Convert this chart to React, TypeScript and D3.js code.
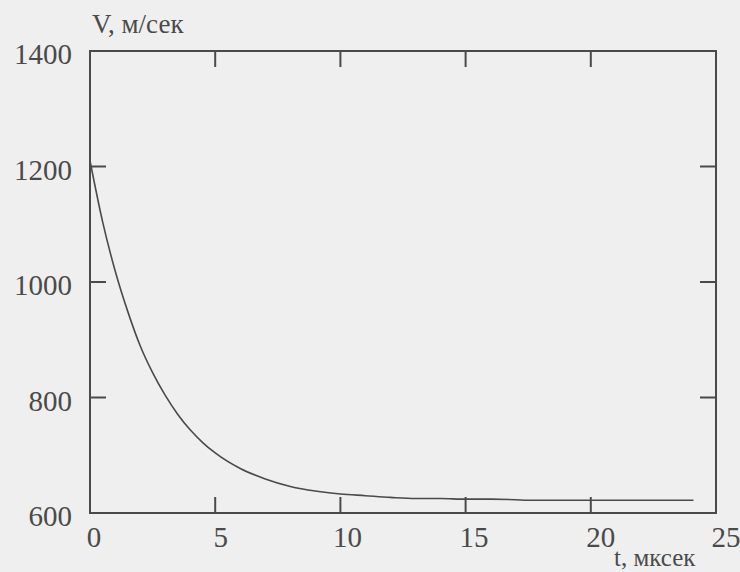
import React, { useRef, useEffect } from "react";
import * as d3 from "d3";

const width = 740;
const height = 572;

// time, mks
const times = [0, 0.5, 1, 1.5, 2, 2.5, 3, 3.5, 4, 4.5, 5, 6, 7, 8, 9, 10, 11, 12, 13, 14, 15, 16, 17, 17.5, 18, 20, 22, 24.1];
// velocity, m/s
const speeds = [1210, 1105, 1020, 950, 890, 843, 804, 771, 744, 722, 704, 677, 659, 646, 638, 633, 630, 627, 625, 625, 624, 624, 623, 622, 622, 622, 622, 622];

const xTicks = [0, 5, 10, 15, 20, 25];
const yTicks = [600, 800, 1000, 1200, 1400];

const ink = "#4a4a4a";
const serif = "'Liberation Serif', 'DejaVu Serif', serif";

const App = () => {
  const ref = useRef<SVGSVGElement>(null);

  useEffect(() => {
    const svg = d3.select(ref.current);
    svg.selectAll("*").remove();

    const x = d3.scaleLinear().domain([0, 25]).range([90, 716]);
    const y = d3.scaleLinear().domain([600, 1400]).range([513, 51]);

    svg.append("rect").attr("width", width).attr("height", height).attr("fill", "#efefef");

    const g = svg.append("g");

    // frame
    g.append("rect")
      .attr("x", x(0))
      .attr("y", y(1400))
      .attr("width", x(25) - x(0))
      .attr("height", y(600) - y(1400))
      .attr("fill", "none")
      .attr("stroke", ink)
      .attr("stroke-width", 2);

    const tl = 16;
    // inward ticks on all four sides
    xTicks.slice(1, -1).forEach(t => {
      g.append("line").attr("x1", x(t)).attr("x2", x(t)).attr("y1", y(600)).attr("y2", y(600) - tl).attr("stroke", ink).attr("stroke-width", 2);
      g.append("line").attr("x1", x(t)).attr("x2", x(t)).attr("y1", y(1400)).attr("y2", y(1400) + tl).attr("stroke", ink).attr("stroke-width", 2);
    });
    yTicks.slice(1, -1).forEach(v => {
      g.append("line").attr("x1", x(0)).attr("x2", x(0) + tl).attr("y1", y(v)).attr("y2", y(v)).attr("stroke", ink).attr("stroke-width", 2);
      g.append("line").attr("x1", x(25)).attr("x2", x(25) - tl).attr("y1", y(v)).attr("y2", y(v)).attr("stroke", ink).attr("stroke-width", 2);
    });

    // tick labels
    g.selectAll(".xl")
      .data(xTicks)
      .enter()
      .append("text")
      .attr("x", d => x(d) + 4 + Math.min(d, 20) * 0.3)
      .attr("y", 547)
      .attr("text-anchor", "middle")
      .attr("fill", ink)
      .style("font-family", serif)
      .style("font-size", "29px")
      .text(d => d);

    g.selectAll(".yl")
      .data(yTicks)
      .enter()
      .append("text")
      .attr("x", 72)
      .attr("y", d => y(d) + 13)
      .attr("text-anchor", "end")
      .attr("fill", ink)
      .style("font-family", serif)
      .style("font-size", "29px")
      .text(d => d);

    // axis titles
    g.append("text").attr("x", 92).attr("y", 33).attr("fill", ink).style("font-family", serif).style("font-size", "27px").text("V, м/сек");
    g.append("text").attr("x", 614).attr("y", 566).attr("fill", ink).style("font-family", serif).style("font-size", "25px").text("t, мксек");

    // curve
    const line = d3
      .line<number>()
      .x((d, i) => x(times[i]))
      .y(d => y(d))
      .curve(d3.curveMonotoneX);

    g.append("path")
      .datum(speeds)
      .attr("d", line)
      .attr("fill", "none")
      .attr("stroke", ink)
      .attr("stroke-width", 1.6);
  }, []);

  return (
    <svg ref={ref} width={width} height={height} style={{ position: "absolute", left: 0, top: 0 }} />
  );
};

export default App;
